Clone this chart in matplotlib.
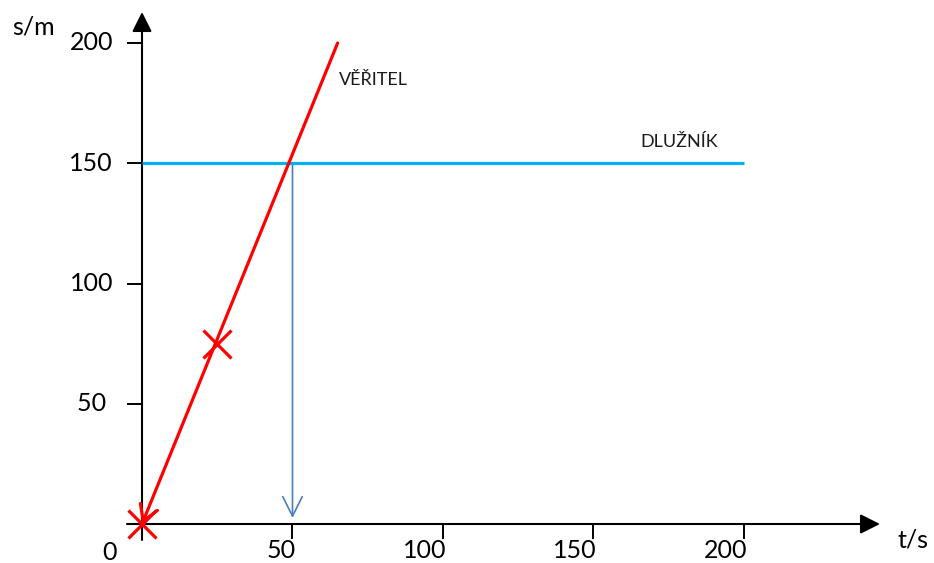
import matplotlib
matplotlib.use("Agg")
import matplotlib.pyplot as plt

plt.rcParams['font.family'] = ['Lato', 'DejaVu Sans']

# ---- data ----
x_ticks = [50, 100, 150, 200]
x_tick_labels = ["50", "100", "150", "200"]
y_ticks = [50, 100, 150, 200]
y_tick_labels = ["50 ", "100", "150", "200"]

veritel_t = [0, 65]
veritel_s = [0, 200]
veritel_marks_t = [0, 25]
veritel_marks_s = [0, 75]

dluznik_t = [0, 200]
dluznik_s = [150, 150]

meet_t = 50
meet_s = 150

# ---- figure ----
W, H, DPI = 934, 563, 100
fig = plt.figure(figsize=(W / DPI, H / DPI), dpi=DPI)
ax = fig.add_axes([0, 0, 1, 1])

x0_px, y0_px = 142, 524
sx, sy = 3.01, 2.405
ax.set_xlim(-x0_px / sx, (W - x0_px) / sx)
ax.set_ylim(-(H - y0_px) / sy, y0_px / sy)

for s in ax.spines.values():
    s.set_visible(False)
ax.spines['left'].set_position(('data', 0))
ax.spines['bottom'].set_position(('data', 0))
ax.set_xticks(x_ticks)
ax.set_yticks(y_ticks)
ax.set_xticklabels([])
ax.set_yticklabels([])
ax.tick_params(axis='both', direction='out', length=10.8, width=1.4, color='black')
ax.tick_params(top=False, right=False)

# axes with arrowheads
ax.annotate('', xy=(0, (y0_px - 12) / sy), xytext=(0, -16 / sy),
            arrowprops=dict(arrowstyle='-|>,head_length=0.6,head_width=0.3',
                            lw=1.5, color='black', mutation_scale=20,
                            shrinkA=0, shrinkB=0))
ax.annotate('', xy=((880 - x0_px) / sx, 0), xytext=(-15 / sx, 0),
            arrowprops=dict(arrowstyle='-|>,head_length=0.6,head_width=0.3',
                            lw=1.5, color='black', mutation_scale=20,
                            shrinkA=0, shrinkB=0))

# tick labels
for v, lab in zip(x_ticks, x_tick_labels):
    ax.annotate(lab, xy=(v, 0), xytext=(3, -27), textcoords='offset pixels',
                ha='right', va='center', fontsize=18, color='black')
for v, lab in zip(y_ticks, y_tick_labels):
    ax.annotate(lab, xy=(0, v), xytext=(-29, 0), textcoords='offset pixels',
                ha='right', va='center', fontsize=18, color='black')
ax.annotate("0", xy=(0, 0), xytext=(-25, -28), textcoords='offset pixels',
            ha='right', va='center', fontsize=18, color='black')

# axis titles
ax.annotate("s/m", xy=(0, 0), xycoords='figure pixels', xytext=(12, H - 27),
            textcoords='figure pixels', ha='left', va='center', fontsize=18)
ax.annotate("t/s", xy=(0, 0), xycoords='figure pixels', xytext=(897, H - 540),
            textcoords='figure pixels', ha='left', va='center', fontsize=18)

# DLUŽNÍK line
ax.plot(dluznik_t, dluznik_s, color='#00b0f0', lw=2.3, solid_capstyle='butt', zorder=3)

# VĚŘITEL line with open arrowhead at origin
ax.annotate('', xy=(veritel_t[0], veritel_s[0]), xytext=(veritel_t[1], veritel_s[1]),
            arrowprops=dict(arrowstyle='->,head_length=0.5,head_width=0.3',
                            lw=2.3, color='#ff0000', mutation_scale=22,
                            shrinkA=0, shrinkB=0), zorder=4)
ax.plot(veritel_marks_t, veritel_marks_s, linestyle='none', marker='x',
        markersize=20, mew=2.3, color='#ff0000', zorder=5)

# meeting-point arrow
ax.annotate('', xy=(meet_t, 2.5), xytext=(meet_t, meet_s),
            arrowprops=dict(arrowstyle='->,head_length=0.7,head_width=0.35',
                            lw=1.2, color='#4a7ebb', mutation_scale=20,
                            shrinkA=0, shrinkB=0), zorder=2)

# labels
ax.text(77, (y0_px - 80) / sy, "VĚŘITEL", fontsize=13, ha='center', va='center', color='#1a1a1a')
ax.text(178.5, (y0_px - 142) / sy, "DLUŽNÍK", fontsize=13, ha='center', va='center', color='#1a1a1a')

fig.savefig("out.png", dpi=DPI)
